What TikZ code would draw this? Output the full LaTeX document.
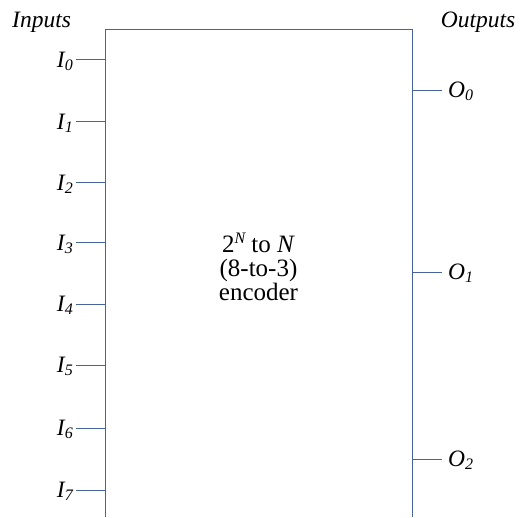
\documentclass[tikz,border=0pt]{standalone}
\usepackage{fontspec}
\setmainfont{Liberation Serif}
\definecolor{wire}{RGB}{70,100,155}
\newcommand{\mysub}[1]{\raisebox{-3pt}{\fontsize{16}{16}\selectfont\itshape #1}}
\begin{document}
\begin{tikzpicture}[x=1pt,y=1pt,
  lbl/.style={font=\fontsize{23.5}{26}\selectfont\itshape, inner sep=0pt},
  ctr/.style={font=\fontsize{25}{24}\selectfont, inner sep=0pt, anchor=base},
  wirel/.style={draw=wire, line width=1pt}]
\useasboundingbox (0,0) rectangle (521,517);
% box (open at bottom)
\coordinate (bl) at (105,0);
\coordinate (tl) at (105,487.5);
\coordinate (tr) at (412,487.5);
\coordinate (br) at (412,0);
\draw[wirel] (bl) -- (tl) -- (tr) -- (br);
\node[lbl, anchor=base west] (inp) at (12,489) {Inputs};
\node[lbl, anchor=base east] (outp) at (515.5,489) {Outputs};
% inputs
\foreach \i/\y in {0/60,1/122,2/183,3/243,4/304,5/365,6/428,7/490}{
  \coordinate (ie\i) at (105,517-\y);
  \coordinate (is\i) at (76,517-\y);
  \draw[wirel] (is\i) -- (ie\i);
  \node[lbl, anchor=base east] (il\i) at (73,517-\y-7.5) {I\mysub{\i}};
}
% outputs
\foreach \i/\y in {0/91,1/272,2/459}{
  \coordinate (os\i) at (412,517-\y);
  \coordinate (oe\i) at (442,517-\y);
  \draw[wirel] (os\i) -- (oe\i);
  \node[lbl, anchor=base west] (ol\i) at (448,517-\y-7) {O\mysub{\i}};
}
\node[ctr] (c1) at (258.5,517-252) {2\raisebox{9pt}{\fontsize{16}{16}\selectfont\itshape N} to \textit{N}};
\node[ctr] (c2) at (258.5,517-276) {(8-to-3)};
\node[ctr] (c3) at (258.5,517-300) {encoder};
\end{tikzpicture}
\end{document}
